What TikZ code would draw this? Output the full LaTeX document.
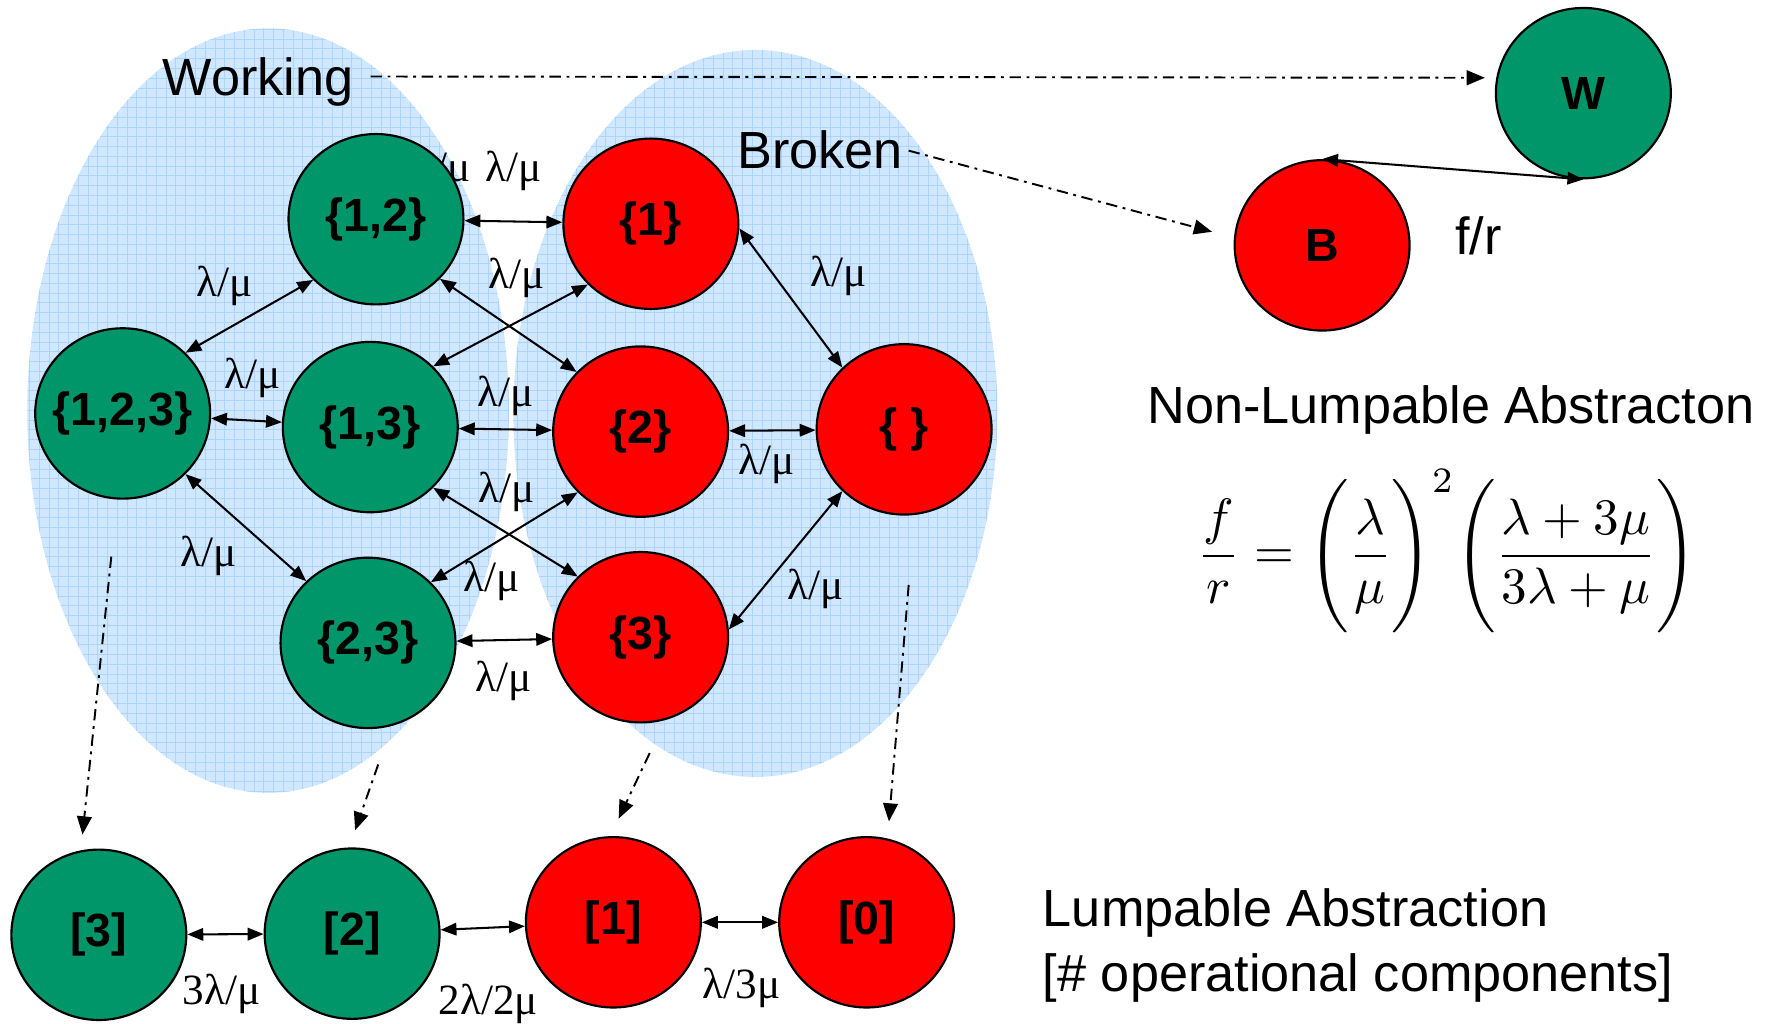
\documentclass[tikz,border=0pt]{standalone}
\usepackage{graphicx}
\usepackage{fontspec}
\setmainfont{Liberation Sans}
\newfontfamily\ratefont{Liberation Serif}
\usetikzlibrary{arrows.meta,shapes.geometric}
\definecolor{okgreen}{RGB}{0,150,106}
\definecolor{failred}{RGB}{255,0,0}
\definecolor{cloudfill}{RGB}{207,231,255}
\definecolor{cloudgrid}{RGB}{172,212,252}

\begin{document}
\begin{tikzpicture}[x=1pt,y=-1pt,
  state/.style={ellipse, draw=black, line width=1.9pt, minimum width=154pt,
    minimum height=150pt, inner xsep=-12pt, inner ysep=0pt,
    font=\fontsize{41}{41}\selectfont\bfseries},
  upstate/.style={state, fill=okgreen},
  downstate/.style={state, fill=failred},
  rate/.style={font=\ratefont\fontsize{38}{38}\selectfont, inner sep=0pt, anchor=base},
  link/.style={line width=1.8pt,
    arrows={Triangle[length=14pt,width=11pt]-Triangle[length=14pt,width=11pt]}},
  abstr/.style={line width=1.7pt, dash pattern=on 10pt off 5pt on 2.5pt off 5pt,
    arrows={-Triangle[length=16pt,width=13pt]}},
  caption/.style={font=\fontsize{46}{46}\selectfont, inner sep=0pt, text depth=0pt,
    anchor=base west}
]
\fill[white] (0,0) rectangle (1568,901);
\useasboundingbox (0,0) rectangle (1568,901);

% the two groups of states: working and broken
\begin{scope}
  \clip (236,361.5) ellipse [x radius=212, y radius=336.5]
        (665,364) ellipse [x radius=213, y radius=320];
  \fill[cloudfill] (0,0) rectangle (900,720);
  \draw[cloudgrid, line width=0.6pt, step=8.6pt] (0,0) grid (900,720);
\end{scope}

% rate label lying partly under state {1,2}
\node[rate] (r0) at (390,160) {λ/μ};

% full state space
\node[upstate]   (n12)  at (331,193) {\{1,2\}};
\node[downstate] (n1)   at (573,197) {\{1\}};
\node[upstate]   (n123) at (108,364) {\{1,2,3\}};
\node[upstate]   (n13)  at (326,376) {\{1,3\}};
\node[downstate] (n2)   at (564,380) {\{2\}};
\node[downstate] (ne)   at (796,378) {\{\ \}};
\node[upstate]   (n23)  at (324,566) {\{2,3\}};
\node[downstate] (n3)   at (564,561) {\{3\}};

\draw[link] (n12) -- (n1);
\draw[link] (n123.44) -- (n12.224);
\draw[link] (n12.-43) -- (n2.137);
\draw[link] (n1.224) -- (n13.44);
\draw[link] (n1.-3) -- (ne.135);
\draw[link] (n123) -- (n13);
\draw[link] (n13) -- (n2);
\draw[link] (n2) -- (ne);
\draw[link] (n123.-44) -- (n23.135);
\draw[link] (n13.-44) -- (n3.136);
\draw[link] (n2.224) -- (n23.44);
\draw[link] (ne.225) -- (n3.5);
\draw[link] (n23) -- (n3);

\node[rate] (r1)  at (452,160) {λ/μ};
\node[rate] (r2)  at (198,261) {λ/μ};
\node[rate] (r3)  at (455,254) {λ/μ};
\node[rate] (r4)  at (738,252) {λ/μ};
\node[rate] (r5)  at (222,342) {λ/μ};
\node[rate] (r6)  at (445,358) {λ/μ};
\node[rate] (r7)  at (675,418) {λ/μ};
\node[rate] (r8)  at (184,499) {λ/μ};
\node[rate] (r9)  at (446,442) {λ/μ};
\node[rate] (r10) at (433,521) {λ/μ};
\node[rate] (r11) at (718,528) {λ/μ};
\node[rate] (r12) at (443,609) {λ/μ};

% two-state abstraction
\node[upstate]   (W) at (1394,82)  {W};
\node[downstate] (B) at (1164,216) {B};
\draw[link] (B.north) -- (W.south);
\node[caption] (fr) at (1281,224) {f/r};

\node[caption] (work) at (143,84) {Working};
\node[caption] (brk)  at (649,148) {Broken};
\draw[abstr, shorten <=15pt, shorten >=10pt] (work.east) -- (W.170);
\draw[abstr, shorten <=5pt, shorten >=20pt] (brk.east) -- (B.175);

\node[caption] (nonlump) at (1010,373) {Non-Lumpable Abstracton};
\node (formula) at (1274,485) {\scalebox{4.5}{$\displaystyle
  \frac{f}{r}=\Biggl(\frac{\lambda}{\mu}\Biggr)^{2}
  \Biggl(\frac{\lambda+3\mu}{3\lambda+\mu}\Biggr)$}};

% lumped chain
\node[upstate]   (L3) at (87,823)  {[3]};
\node[upstate]   (L2) at (310,822) {[2]};
\node[downstate] (L1) at (540,812) {[1]};
\node[downstate] (L0) at (763,812) {[0]};
\draw[link] (L3) -- (L2);
\draw[link] (L2) -- (L1);
\draw[link] (L1) -- (L0);
\node[rate] (q1) at (195,884) {3λ/μ};
\node[rate] (q2) at (430,893) {2λ/2μ};
\node[rate] (q3) at (653,879) {λ/3μ};

\coordinate (s3) at (98,490);
\coordinate (s2) at (333,673);
\coordinate (s1) at (572,663);
\coordinate (s0) at (800,515);
\draw[abstr, shorten >=14pt] (s3) -- (L3.102);
\draw[abstr, shorten >=16pt] (s2) -- (L2.92);
\draw[abstr, shorten >=17pt] (s1) -- (L1.92);
\draw[abstr, shorten >=15pt] (s0) -- (L0.76);

\node[caption] (lump1) at (918,816) {Lumpable Abstraction};
\node[caption] (lump2) at (918,873) {[\# operational components]};
\end{tikzpicture}
\end{document}
